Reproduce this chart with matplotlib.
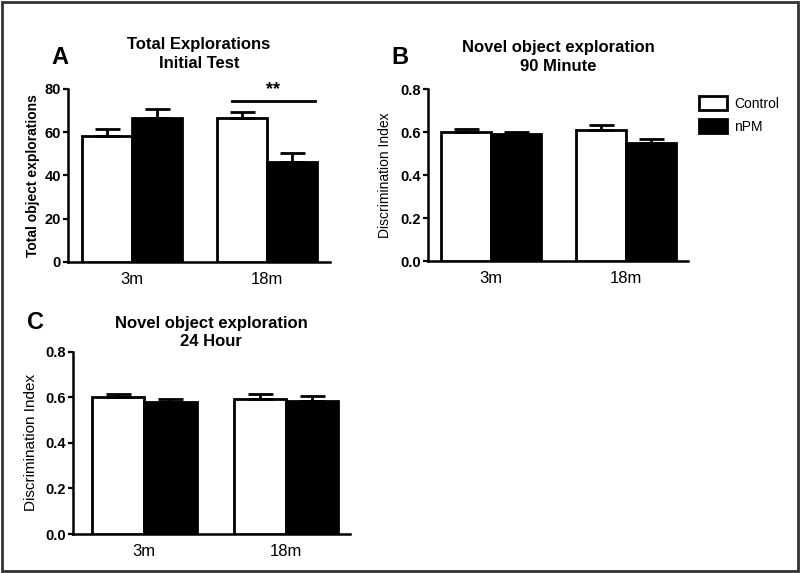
import matplotlib.pyplot as plt
import numpy as np

plt.rcParams['font.family'] = ['Liberation Sans', 'DejaVu Sans']

groups = ["3m", "18m"]
series = ["Control", "nPM"]

# panel A - total explorations
a_control = [58.2, 66.3]
a_control_err = [3.1, 3.2]
a_npm = [66.5, 46.0]
a_npm_err = [4.0, 4.3]

# panel B - 90 minute discrimination index
b_control = [0.600, 0.610]
b_control_err = [0.015, 0.022]
b_npm = [0.590, 0.550]
b_npm_err = [0.010, 0.020]

# panel C - 24 hour discrimination index
c_control = [0.600, 0.595]
c_control_err = [0.013, 0.020]
c_npm = [0.580, 0.585]
c_npm_err = [0.012, 0.022]

W = 0.37
LW = 2.0


def draw_panel(ax, ctrl, ctrl_err, npm, npm_err, ylim, yticks, fmt, xlim):
    x = np.arange(len(groups))
    ekw = dict(ecolor="black", elinewidth=LW, capsize=9, capthick=LW)
    ax.bar(x - W/2, ctrl, W, color="white", edgecolor="black", linewidth=LW,
           yerr=[[0]*len(ctrl), ctrl_err], error_kw=ekw, label=series[0], zorder=3)
    ax.bar(x + W/2, npm, W, color="black", edgecolor="black", linewidth=LW,
           yerr=[[0]*len(npm), npm_err], error_kw=ekw, label=series[1], zorder=3)
    ax.set_ylim(*ylim)
    ax.set_xlim(*xlim)
    ax.set_yticks(yticks)
    ax.set_yticklabels([fmt.format(v) for v in yticks], fontsize=10.5, fontweight="bold")
    ax.set_xticks(x)
    ax.set_xticklabels(groups, fontsize=12)
    ax.tick_params(axis="x", length=0, pad=7)
    ax.tick_params(axis="y", length=3.5, width=1.6, direction="out", pad=1.5)
    for s in ["top", "right"]:
        ax.spines[s].set_visible(False)
    for s in ["left", "bottom"]:
        ax.spines[s].set_linewidth(1.8)


fig = plt.figure(figsize=(8, 5.73), dpi=100)

axA = fig.add_axes([0.085, 0.543, 0.3275, 0.302])
draw_panel(axA, a_control, a_control_err, a_npm, a_npm_err, (0, 80), [0, 20, 40, 60, 80],
           "{:.0f}", (-0.474, 1.467))
axA.set_ylabel("Total object explorations", fontsize=10, fontweight="bold", labelpad=3)
axA.set_title("Total Explorations\nInitial Test", fontsize=12, fontweight="bold", pad=15, linespacing=1.3)
# significance bar over 18m
axA.plot([0.74, 1.355], [74.5, 74.5], color="black", lw=2, clip_on=False)
axA.text(1.045, 75.5, "**", ha="center", va="bottom", fontsize=13, fontweight="bold")

axB = fig.add_axes([0.535, 0.5445, 0.325, 0.300])
draw_panel(axB, b_control, b_control_err, b_npm, b_npm_err, (0, 0.8), [0, 0.2, 0.4, 0.6, 0.8],
           "{:.1f}", (-0.467, 1.46))
axB.set_ylabel("Discrimination Index", fontsize=10, labelpad=6)
axB.set_title("Novel object exploration\n90 Minute", fontsize=12, fontweight="bold", pad=13, linespacing=1.3)
axB.legend(loc="upper left", bbox_to_anchor=(0.995, 1.03), frameon=False, fontsize=10,
           handlelength=2.0, handleheight=1.1, handletextpad=0.5, labelspacing=0.6)

axC = fig.add_axes([0.0912, 0.068, 0.346, 0.318])
draw_panel(axC, c_control, c_control_err, c_npm, c_npm_err, (0, 0.8), [0, 0.2, 0.4, 0.6, 0.8],
           "{:.1f}", (-0.503, 1.45))
axC.set_ylabel("Discrimination Index", fontsize=11, labelpad=5)
axC.set_title("Novel object exploration\n24 Hour", fontsize=12, fontweight="bold", pad=4, linespacing=1.3)

# panel letters
fig.text(0.075, 0.9, "A", fontsize=17, fontweight="bold", ha="center", va="center")
fig.text(0.5, 0.9, "B", fontsize=17, fontweight="bold", ha="center", va="center")
fig.text(0.045, 0.438, "C", fontsize=17, fontweight="bold", ha="center", va="center")

# image frame
fig.patches.append(plt.Rectangle((0.002, 0.003), 0.996, 0.994, transform=fig.transFigure,
                                 fill=False, edgecolor="#333333", linewidth=2))

plt.savefig("out.png", dpi=100)
plt.close()
